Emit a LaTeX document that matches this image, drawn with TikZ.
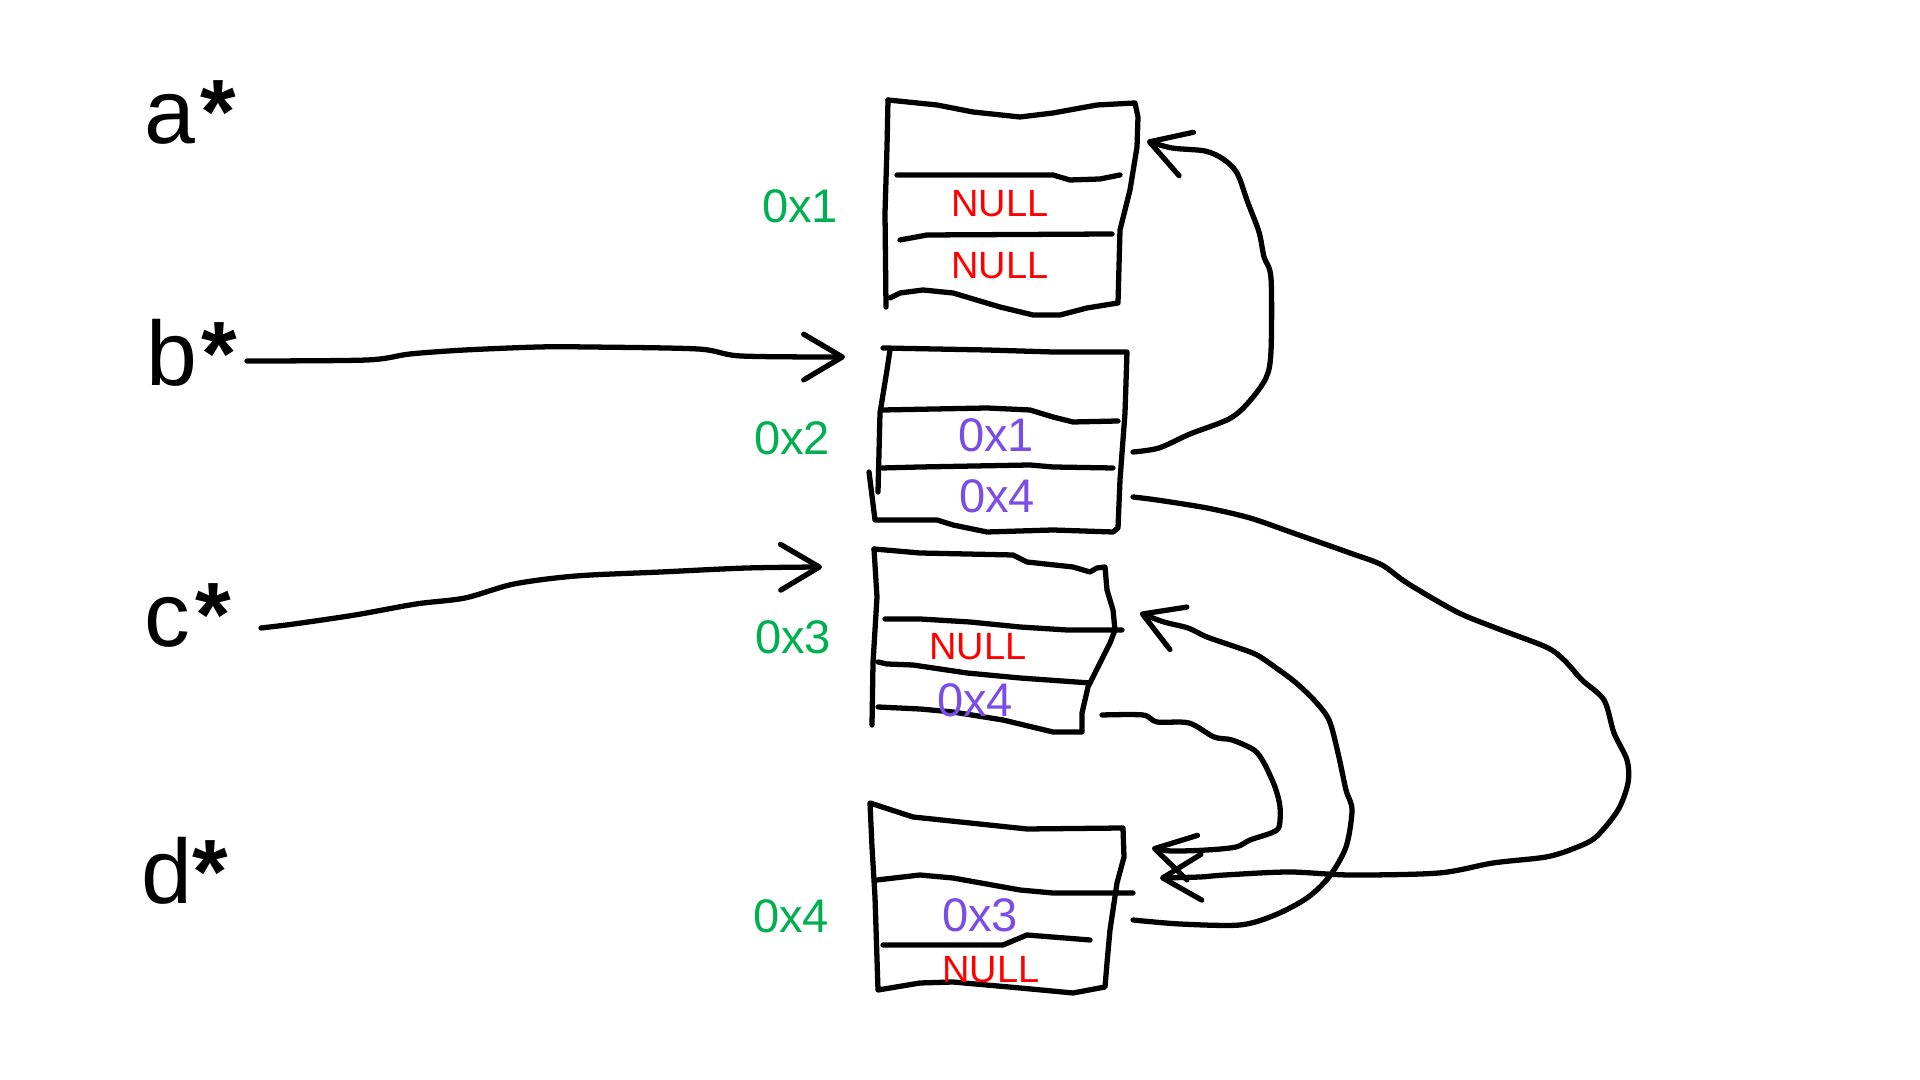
\documentclass[tikz,border=0pt]{standalone}
\usepackage{fontspec}
\setmainfont{Liberation Sans}
\usetikzlibrary{arrows.meta}
\definecolor{addrgreen}{RGB}{0,176,80}
\definecolor{ptrpurple}{RGB}{124,77,230}
\definecolor{nullred}{RGB}{255,0,0}
\tikzset{
  varlabel/.style={font=\fontsize{26}{30}\selectfont, anchor=base west, inner sep=0pt},
  addr/.style={text=addrgreen, font=\fontsize{13.4}{16}\selectfont, anchor=base, inner sep=0pt},
  ptrval/.style={text=ptrpurple, font=\fontsize{13.4}{16}\selectfont, anchor=base, inner sep=0pt},
  nullval/.style={text=nullred, font=\fontsize{10.8}{13}\selectfont, anchor=base, inner sep=0pt},
  boxline/.style={draw=black, line width=1.5pt, line cap=round, line join=round},
  ptrlink/.style={draw=black, line width=1.5pt, line cap=round, line join=round,
    -{Straight Barb[length=11pt,width=13pt,round]}},
}
\begin{document}
\begin{tikzpicture}[x=0.01cm,y=-0.01cm]
\useasboundingbox (0,0) rectangle (1920,1080);
\fill[white] (0,0) rectangle (1920,1080);

% variable labels
\node[varlabel] (astar) at (144,144) {a\kern1.5pt{\bfseries*}};
\node[varlabel] (bstar) at (146,386) {b\kern1pt{\bfseries*}};
\node[varlabel] (cstar) at (144,647) {c\kern1.5pt{\bfseries*}};
\node[varlabel] (dstar) at (141,904) {d{\bfseries*}};

% addresses
\node[addr] (addr1) at (800,223) {0x1};
\node[addr] (addr2) at (792,455) {0x2};
\node[addr] (addr3) at (793,654) {0x3};
\node[addr] (addr4) at (791,933) {0x4};

% box 1
\draw[boxline] (888,100) -- (937,105) -- (973,112) -- (1020,117) -- (1053,113) -- (1097,105) -- (1135,103)
  -- (1138,117) -- (1137,147) -- (1130,190) -- (1120,230) -- (1118,303)
  -- (1087,308) -- (1060,315) -- (1033,315) -- (1000,307) -- (953,293) -- (923,290) -- (900,293) -- (890,298);
\draw[boxline] (886,307) -- (885,213) -- (887,147) -- (888,100);
\draw[boxline] (897,175) -- (1053,175) -- (1070,180) -- (1100,179) -- (1120,175);
\draw[boxline] (900,240) -- (927,235) -- (1112,234);

% box 2
\draw[boxline] (883,348) -- (987,350) -- (1053,352) -- (1127,352) -- (1125,413) -- (1120,480) -- (1118,528) -- (1113,532)
  -- (1053,530) -- (987,532) -- (953,525) -- (937,520) -- (875,520) -- (869,472);
\draw[boxline] (878,492) -- (880,413) -- (887,370) -- (890,350);
\draw[boxline] (883,410) -- (987,408) -- (1030,410) -- (1053,417) -- (1073,422) -- (1118,421);
\draw[boxline] (882,468) -- (920,467) -- (1030,465) -- (1053,467) -- (1113,468);

% box 3
\draw[boxline] (874,549) -- (920,553) -- (1013,555) -- (1027,562) -- (1073,567) -- (1090,572) -- (1097,568) -- (1105,567)
  -- (1107,590) -- (1113,610) -- (1115,630) -- (1110,643) -- (1093,677) -- (1088,687) -- (1082,713) -- (1082,732)
  -- (1053,732) -- (1003,720) -- (953,712) -- (920,709) -- (878,707);
\draw[boxline] (872,725) -- (873,663) -- (877,597) -- (874,549);
\draw[boxline] (885,619) -- (920,619) -- (970,622) -- (1020,627) -- (1067,630) -- (1122,630);
\draw[boxline] (878,662) -- (887,664) -- (913,665) -- (967,673) -- (1020,678) -- (1090,683);

% box 4
\draw[boxline] (870,803) -- (913,817) -- (1027,829) -- (1123,828) -- (1124,857) -- (1117,883) -- (1110,930) -- (1107,963) -- (1105,987)
  -- (1073,993) -- (1020,988) -- (953,982) -- (920,983) -- (878,990) -- (875,897) -- (872,847) -- cycle;
\draw[boxline] (877,880) -- (920,875) -- (953,878) -- (1020,890) -- (1053,893) -- (1133,893);
\draw[boxline] (883,945) -- (1003,945) -- (1027,935) -- (1090,940);

% field values
\node[nullval] (f1a) at (1000,217) {NULL};
\node[nullval] (f1b) at (1000,279) {NULL};
\node[ptrval] (f2a) at (996,452) {0x1};
\node[ptrval] (f2b) at (997,513) {0x4};
\node[nullval] (f3a) at (978,660) {NULL};
\node[ptrval] (f3b) at (975,717) {0x4};
\node[ptrval] (f4a) at (980,932) {0x3};
\node[nullval] (f4b) at (991,983) {NULL};

% connector end points
\coordinate (bOut) at (247,361);
\coordinate (box2In) at (845,357);
\coordinate (cOut) at (261,628);
\coordinate (box3In) at (822,567);
\coordinate (p2prev) at (1133,452);
\coordinate (box1In) at (1147,141);
\coordinate (p2next) at (1133,497);
\coordinate (box4InB) at (1160,878);
\coordinate (p3next) at (1102,715);
\coordinate (box4InA) at (1152,848);
\coordinate (p4prev) at (1133,920);
\coordinate (box3InR) at (1140,613);

% connectors
\draw[ptrlink] plot[smooth,tension=0.5] coordinates {(bOut) (367,360) (410,354) (465,350) (539,347) (588,347) (698,349) (741,356) (box2In)};
\draw[ptrlink] plot[smooth,tension=0.5] coordinates {(cOut) (294,624) (355,615) (416,604) (465,598) (514,584) (576,576) (661,572) (747,568) (box3In)};
\draw[ptrlink] plot[smooth,tension=0.5] coordinates {(p2prev) (1159,448) (1190,434) (1229,419) (1248,403) (1266,378) (1271,351) (1271,278) (1264,257) (1259,232) (1248,203) (1237,173) (1223,159) (1205,151) (1172,148) (box1In)};
\draw[ptrlink] plot[smooth,tension=0.5] coordinates {(p2next) (1157,500) (1207,508) (1250,518) (1296,534) (1350,553) (1382,565) (1407,583) (1457,612) (1496,628) (1546,647) (1564,660) (1582,680) (1604,700) (1614,733) (1627,760) (1628,783) (1618,810) (1596,837) (1575,848) (1546,857) (1493,863) (1439,873) (1350,875) (1289,872) (1225,875) (1200,877) (box4InB)};
\draw[ptrlink] plot[smooth,tension=0.5] coordinates {(p3next) (1143,715) (1157,722) (1189,723) (1214,737) (1232,740) (1254,750) (1264,763) (1275,787) (1280,807) (1279,827) (1271,833) (1250,840) (1236,847) (1207,850) (1171,851) (box4InA)};
\draw[ptrlink] plot[smooth,tension=0.5] coordinates {(p4prev) (1180,924) (1240,925) (1275,915) (1307,898) (1329,877) (1346,847) (1352,810) (1346,790) (1338,753) (1329,720) (1314,700) (1295,682) (1279,670) (1257,655) (1236,647) (1207,637) (1188,628) (1164,622) (box3InR)};
\end{tikzpicture}
\end{document}
